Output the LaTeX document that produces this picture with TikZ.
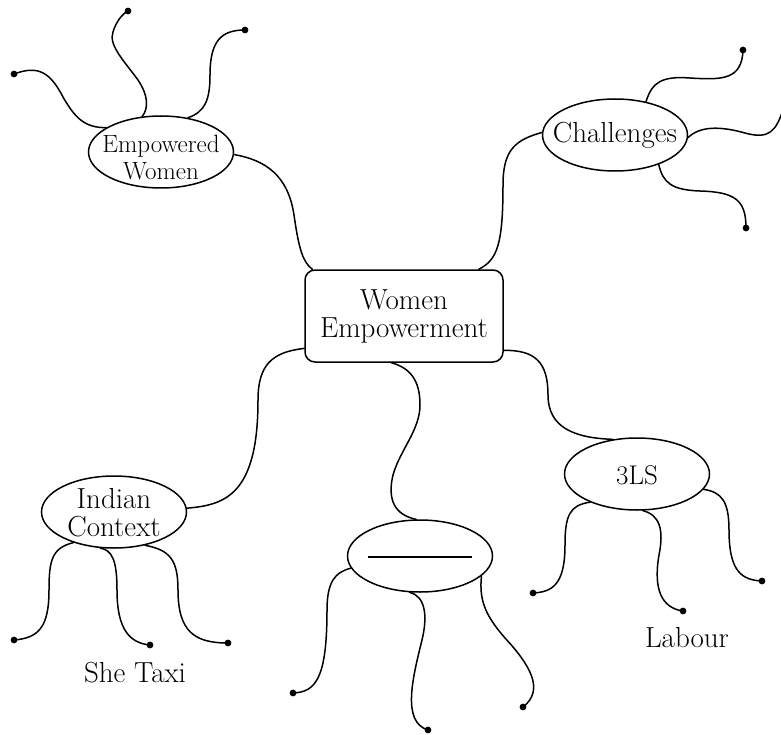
\documentclass[tikz,border=0pt]{standalone}
\usepackage{fontspec}
\usetikzlibrary{shapes.geometric}
\tikzset{
  bub/.style={draw, ellipse, line width=1.5pt, minimum width=145pt, minimum height=72pt, inner sep=0pt},
  lbl/.style={font=\fontsize{29}{28}\selectfont, align=center, inner sep=0pt},
  link/.style={line width=1.5pt, line cap=round},
  enddot/.style={fill, radius=3.4pt}
}
\begin{document}
\begin{tikzpicture}[x=1pt, y=-1pt]
\useasboundingbox (0,0) rectangle (781,735);

% central box
\node[draw, rounded corners=10pt, minimum width=198pt, minimum height=92pt, line width=1.5pt, lbl] (wp) at (404,316) {Women\\Empowerment};

% bubbles
\node[bub] (ew) at (161,152) {};
\node[lbl, font=\fontsize{25}{27}\selectfont] (ewt) at (161,158) {Empowered\\Women};
\node[bub] (ch) at (615,135) {};
\node[lbl] (cht) at (615,135) {Challenges};
\node[bub] (ic) at (114,512) {};
\node[lbl] (ict) at (114,513) {Indian\\Context};
\node[bub] (bl) at (420,556) {};
\node[inner sep=0pt] (blt) at (420,557) {\rule{104pt}{1.8pt}};
\node[bub] (ls) at (637,474) {};
\node[lbl, font=\fontsize{27}{28}\selectfont] (lst) at (637,475) {3LS};

% free labels
\node[lbl] (st) at (135,673) {She Taxi};
\node[lbl] (lb) at (687,638) {Labour};

% end points
\coordinate (dA) at (14,74);
\coordinate (dB) at (128,11);
\coordinate (dC) at (245,30);
\coordinate (dD) at (743,50);
\coordinate (cR) at (783,110);
\coordinate (dE) at (746,228);
\coordinate (dF) at (14,640);
\coordinate (dG) at (150,645);
\coordinate (dH) at (228,643);
\coordinate (dI) at (293,693);
\coordinate (dJ) at (428,730);
\coordinate (dK) at (523,707);
\coordinate (dL) at (533,593);
\coordinate (dM) at (683,611);
\coordinate (dN) at (762,581);

% Empowered Women branches
\draw[link] (ew.156) .. controls (85,128) and (75,118) .. (63,97) .. controls (50,72) and (38,65) .. (dA);
\draw[link] (ew.118) .. controls (149,108) and (148,95) .. (138,80) .. controls (125,62) and (108,45) .. (113,32) .. controls (116,22) and (122,14) .. (dB);
\draw[link] (ew.52) .. controls (205,112) and (210,100) .. (210,75) .. controls (210,40) and (222,30) .. (dC);
\draw[link] (ew.-2) .. controls (265,160) and (288,175) .. (294,215) .. controls (299,250) and (303,262) .. (wp.153);

% Challenges branches
\draw[link] (ch.178) .. controls (515,140) and (503,150) .. (503,185) .. controls (503,245) and (497,260) .. (wp.32);
\draw[link] (ch.47) .. controls (652,82) and (662,76) .. (690,78) .. controls (722,80) and (742,80) .. (dD);
\draw[link] (ch.-2) .. controls (700,126) and (720,126) .. (745,133) .. controls (770,140) and (776,130) .. (cR);
\draw[link] (ch.-34) .. controls (663,183) and (672,190) .. (700,191) .. controls (735,192) and (746,200) .. (dE);

% centre to lower bubbles
\draw[link] (wp.198) .. controls (272,352) and (258,365) .. (258,400) .. controls (258,495) and (225,505) .. (ic.3);
\draw[link] (wp.255) .. controls (410,368) and (420,380) .. (420,405) .. controls (420,430) and (400,450) .. (393,475) .. controls (387,500) and (395,515) .. (bl.96);
\draw[link] (wp.-19) .. controls (535,350) and (548,362) .. (548,395) .. controls (548,428) and (575,438) .. (ls.125);

% Indian Context branches
\draw[link] (ic.217) .. controls (52,548) and (49,560) .. (49,590) .. controls (49,628) and (38,638) .. (dF);
\draw[link] (ic.249) .. controls (112,550) and (117,560) .. (117,590) .. controls (117,630) and (130,643) .. (dG);
\draw[link] (ic.313) .. controls (170,550) and (178,560) .. (178,590) .. controls (178,632) and (195,643) .. (dH);

% blank bubble branches
\draw[link] (bl.190) .. controls (335,572) and (327,582) .. (327,610) .. controls (327,680) and (315,692) .. (dI);
\draw[link] (bl.254) .. controls (425,596) and (428,615) .. (422,640) .. controls (412,680) and (402,722) .. (dJ);
\draw[link] (bl.-18) .. controls (479,600) and (485,615) .. (505,638) .. controls (530,665) and (545,690) .. (dK);

% 3LS branches
\draw[link] (ls.211) .. controls (570,505) and (565,515) .. (565,545) .. controls (565,585) and (552,592) .. (dL);
\draw[link] (ls.-81) .. controls (660,515) and (664,530) .. (659,555) .. controls (653,590) and (662,608) .. (dM);
\draw[link] (ls.-13) .. controls (722,492) and (729,502) .. (729,530) .. controls (729,572) and (742,580) .. (dN);

% dots
\foreach \d in {dA,dB,dC,dD,dE,dF,dG,dH,dI,dJ,dK,dL,dM,dN}
  \fill[enddot] (\d) circle;
\end{tikzpicture}
\end{document}
